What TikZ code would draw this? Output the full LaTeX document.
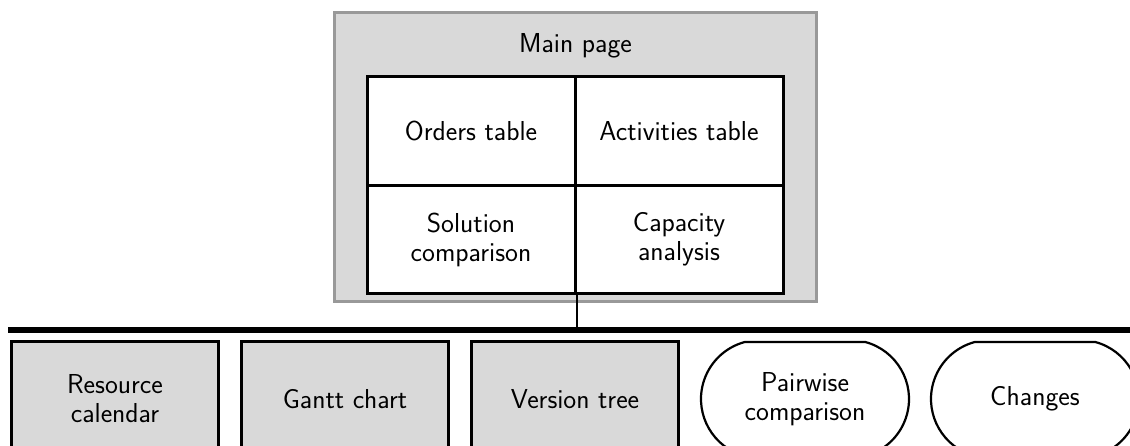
\documentclass[tikz,border=0pt]{standalone}
\usetikzlibrary{shapes.misc}
\definecolor{panelgray}{HTML}{D9D9D9}
\definecolor{framegray}{HTML}{999999}
\begin{document}
\begin{tikzpicture}[x=1pt,y=-1pt,
  every node/.style={font=\sffamily\fontsize{27.4}{29}\selectfont, align=center, inner sep=0pt},
  mainbox/.style={draw=framegray, fill=panelgray, line width=3pt, minimum width=482pt, minimum height=289pt},
  cell/.style={draw=black, fill=white, line width=3pt, minimum width=208pt, minimum height=108.5pt},
  viewbox/.style={draw=black, fill=panelgray, line width=3pt, minimum width=207pt, minimum height=114pt},
  dialog/.style={draw=black, fill=white, line width=2.2pt, rounded rectangle, rounded rectangle arc length=150, minimum width=208pt, minimum height=114pt}]
\useasboundingbox (0,0) rectangle (1130,446);

% main page with its four panels
\node[mainbox] (main) at (575.5,157.5) {};
\node (title) at (575.5,46) {Main page};
\node[cell] (orders) at (471,131.25) {Orders table};
\node[cell] (activities) at (679,131.25) {Activities table};
\node[cell] (solution) at (471,239.75) {Solution\\comparison};
\node[cell] (capacity) at (679,239.75) {Capacity\\analysis};

% bus bar
\coordinate (barL) at (8,330);
\coordinate (barR) at (1130,330);
\draw[line width=6.5pt] (barL) -- (barR);
\draw[line width=2pt] (solution.south east) -- (solution.south east |- barL);

% secondary views
\node[viewbox] (calendar) at (115,399) {Resource\\calendar};
\node[viewbox] (gantt) at (345,399) {Gantt chart};
\node[viewbox] (versions) at (575,399) {Version tree};
\node[dialog] (pairwise) at (805,399) {Pairwise\\comparison};
\node[dialog] (changes) at (1035,399) {Changes};
\end{tikzpicture}
\end{document}
